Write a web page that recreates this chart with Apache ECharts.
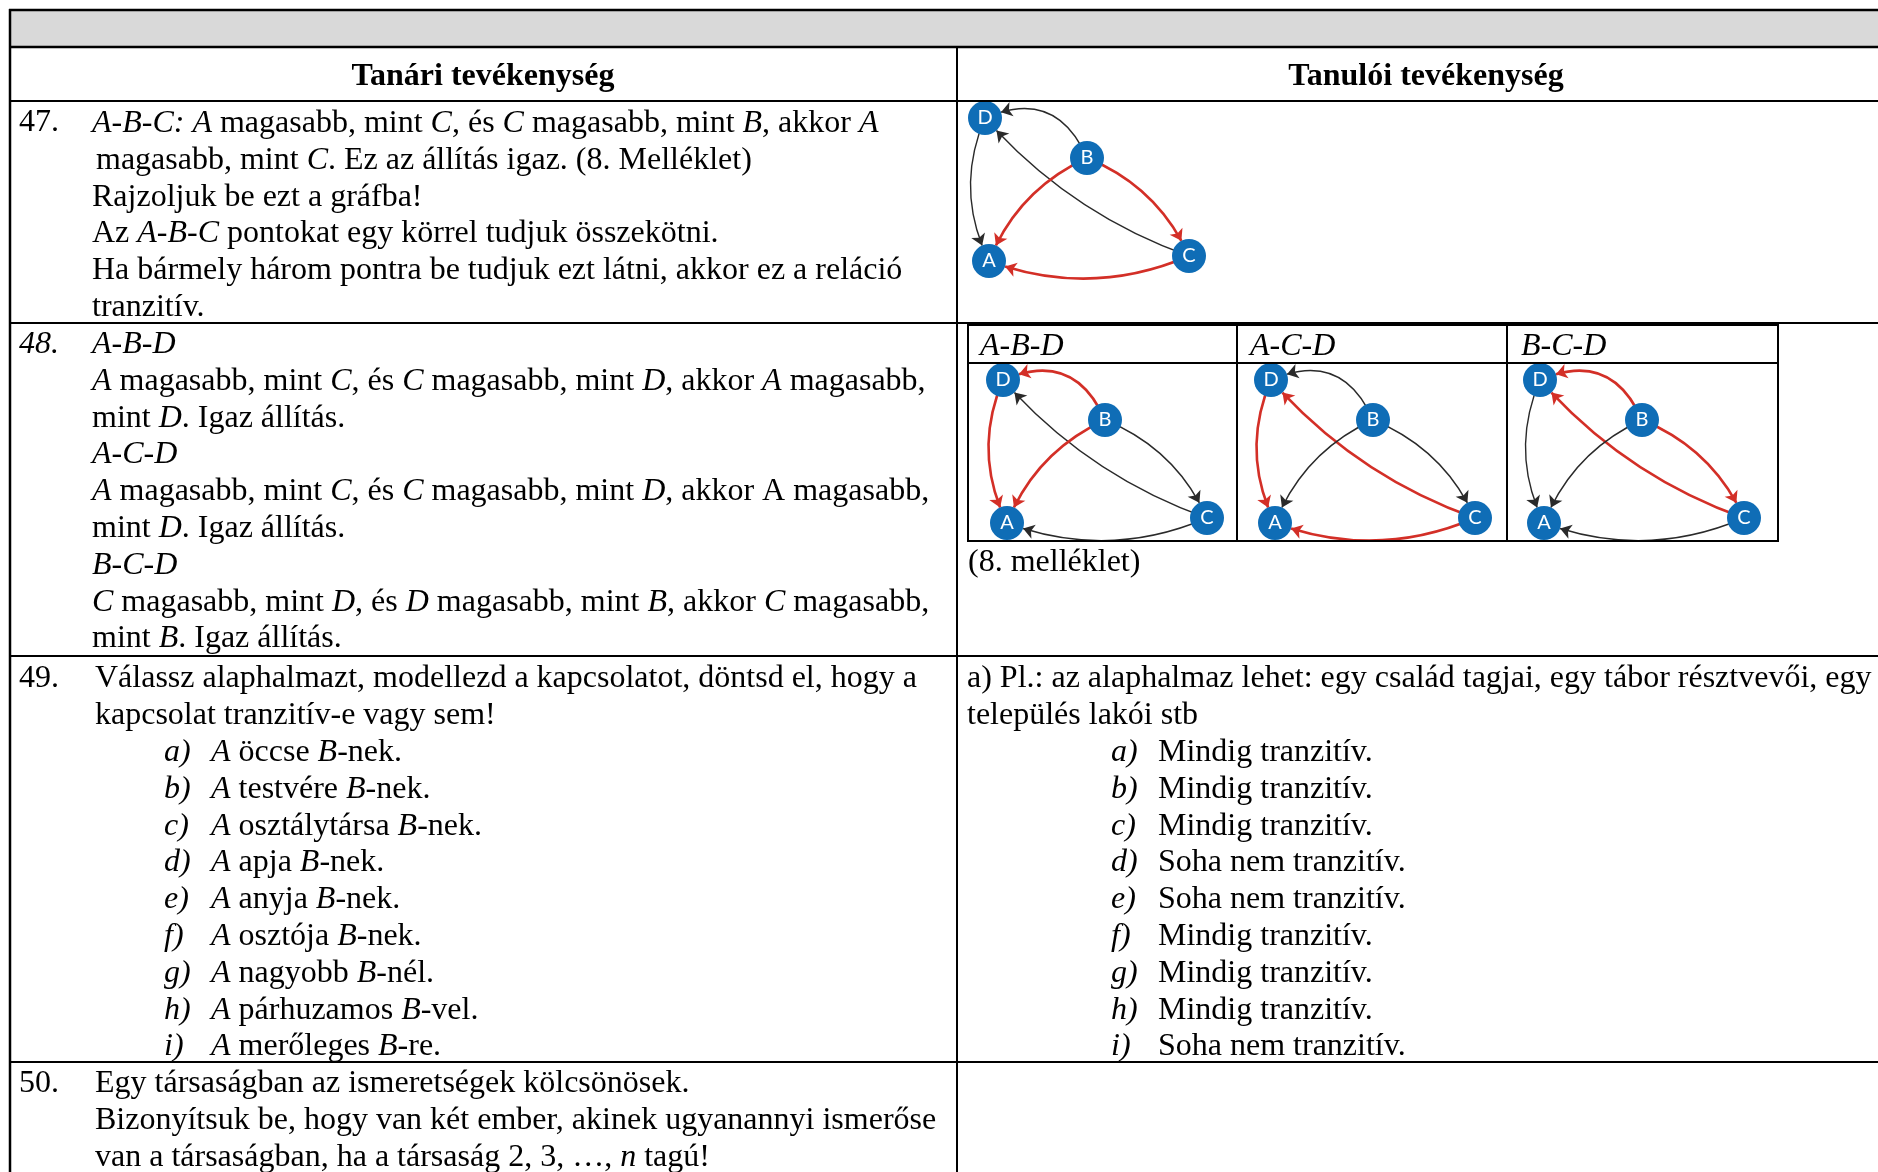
<!DOCTYPE html>
<html>
<head>
<meta charset="utf-8">
<script src="https://cdn.jsdelivr.net/npm/echarts@6/dist/echarts.min.js"></script>
<style>
  html, body { margin: 0; padding: 0; background: #fff; }
  #main { width: 1878px; height: 1172px; }
</style>
</head>
<body>
<div id="main"></div>
<script>
// graph layout (same four nodes in every diagram)
var nodeNames = ['A', 'B', 'C', 'D'];
var nodeX = [4, 102, 204, 0];
var nodeY = [143, 40, 138, 0];

// directed edges and how much they bend
var edgeSource = ['B', 'D', 'C', 'B', 'B', 'C'];
var edgeTarget = ['D', 'A', 'D', 'A', 'C', 'A'];
var edgeCurve = [-0.5, -0.23, 0.13, -0.2, 0.2, 0.2];

// 1 = red (the triple being checked), 0 = black
var panelNames = ['47', 'A-B-D', 'A-C-D', 'B-C-D'];
var panelRed = [
  [0, 0, 0, 1, 1, 1],
  [1, 1, 0, 1, 0, 0],
  [0, 1, 1, 0, 0, 1],
  [1, 0, 1, 0, 1, 0]
];

// texts of the table
var headLeft = 'Tanári tevékenység';
var headRight = 'Tanulói tevékenység';
var row47 = [
  '{i|A-B-C: A} magasabb, mint {i|C}, és {i|C} magasabb, mint {i|B}, akkor {i|A}',
  'magasabb, mint {i|C}. Ez az állítás igaz. (8. Melléklet)',
  'Rajzoljuk be ezt a gráfba!',
  'Az {i|A-B-C} pontokat egy körrel tudjuk összekötni.',
  'Ha bármely három pontra be tudjuk ezt látni, akkor ez a reláció',
  'tranzitív.'
];
var row48 = [
  '{i|A-B-D}',
  '{i|A} magasabb, mint {i|C}, és {i|C} magasabb, mint {i|D}, akkor {i|A} magasabb,',
  'mint {i|D}. Igaz állítás.',
  '{i|A-C-D}',
  '{i|A} magasabb, mint {i|C}, és {i|C} magasabb, mint {i|D}, akkor A magasabb,',
  'mint {i|D}. Igaz állítás.',
  '{i|B-C-D}',
  '{i|C} magasabb, mint {i|D}, és {i|D} magasabb, mint {i|B}, akkor {i|C} magasabb,',
  'mint {i|B}. Igaz állítás.'
];
var row49 = [
  'Válassz alaphalmazt, modellezd a kapcsolatot, döntsd el, hogy a',
  'kapcsolat tranzitív-e vagy sem!'
];
var itemLetters = ['a)', 'b)', 'c)', 'd)', 'e)', 'f)', 'g)', 'h)', 'i)'];
var itemTasks = [
  '{i|A} öccse {i|B}-nek.',
  '{i|A} testvére {i|B}-nek.',
  '{i|A} osztálytársa {i|B}-nek.',
  '{i|A} apja {i|B}-nek.',
  '{i|A} anyja {i|B}-nek.',
  '{i|A} osztója {i|B}-nek.',
  '{i|A} nagyobb {i|B}-nél.',
  '{i|A} párhuzamos {i|B}-vel.',
  '{i|A} merőleges {i|B}-re.'
];
var row49Right = [
  'a) Pl.: az alaphalmaz lehet: egy család tagjai, egy tábor résztvevői, egy',
  'település lakói stb'
];
var itemAnswers = [
  'Mindig tranzitív.', 'Mindig tranzitív.', 'Mindig tranzitív.',
  'Soha nem tranzitív.', 'Soha nem tranzitív.', 'Mindig tranzitív.',
  'Mindig tranzitív.', 'Mindig tranzitív.', 'Soha nem tranzitív.'
];
var row50 = [
  'Egy társaságban az ismeretségek kölcsönösek.',
  'Bizonyítsuk be, hogy van két ember, akinek ugyanannyi ismerőse',
  'van a társaságban, ha a társaság 2, 3, …, {i|n} tagú!'
];

var FONT = 'Liberation Serif';
var FS = 32;
var LH = 36.8;
var RED = '#d32f27';
var BLACK = '#2a2a2a';
var BLUE = '#0f6db6';

var richStyles = {
  i: { fontFamily: FONT, fontSize: FS, fontStyle: 'italic', fill: '#000' }
};

function txt(x, y, s, extra) {
  var st = {
    text: s,
    fontFamily: FONT,
    fontSize: FS,
    fill: '#000',
    align: 'left',
    verticalAlign: 'middle',
    rich: richStyles
  };
  if (extra) { for (var k in extra) st[k] = extra[k]; }
  return { type: 'text', x: x, y: y, style: st, z: 10 };
}

function hline(y, x1, x2, w) {
  return { type: 'line', shape: { x1: x1, y1: y, x2: x2, y2: y }, style: { stroke: '#000', lineWidth: w || 2 }, z: 5 };
}
function vline(x, y1, y2, w) {
  return { type: 'line', shape: { x1: x, y1: y1, x2: x, y2: y2 }, style: { stroke: '#000', lineWidth: w || 2 }, z: 5 };
}

var graphic = [];
// grey band + table lines
graphic.push({ type: 'rect', shape: { x: 10, y: 10, width: 1868, height: 37 }, style: { fill: '#d9d9d9' }, z: 1 });
graphic.push(hline(10, 9, 1878, 2.5));
graphic.push(hline(47, 9, 1878, 2.5));
graphic.push(hline(101, 9, 1878, 2));
graphic.push(hline(323, 9, 1878, 2));
graphic.push(hline(656, 9, 1878, 2));
graphic.push(hline(1062, 9, 1878, 2));
graphic.push(vline(10, 9, 1172, 2.5));
graphic.push(vline(957, 47, 1172, 2));

// small table around the three diagrams of row 48
graphic.push(hline(325, 967, 1779, 2));
graphic.push(hline(363, 967, 1779, 2));
graphic.push(hline(541, 967, 1779, 2));
graphic.push(vline(968, 324, 542, 2));
graphic.push(vline(1237, 324, 542, 2));
graphic.push(vline(1507, 324, 542, 2));
graphic.push(vline(1778, 324, 542, 2));

// header
graphic.push(txt(483, 77, headLeft, { align: 'center', fontWeight: 'bold' }));
graphic.push(txt(1426, 77, headRight, { align: 'center', fontWeight: 'bold' }));

// row 47
graphic.push(txt(19, 123, '47.'));
row47.forEach(function (s, i) { graphic.push(txt(i === 1 ? 96 : 92, 123.5 + i * LH, s)); });
// row 48
graphic.push(txt(19, 344.5, '{i|48.}'));
row48.forEach(function (s, i) { graphic.push(txt(92, 344.5 + i * LH, s)); });
graphic.push(txt(980, 347, '{i|' + panelNames[1] + '}'));
graphic.push(txt(1250, 347, '{i|' + panelNames[2] + '}'));
graphic.push(txt(1521, 347, '{i|' + panelNames[3] + '}'));
graphic.push(txt(968, 563, '(8. melléklet)'));
// row 49
graphic.push(txt(19, 679, '49.'));
row49.forEach(function (s, i) { graphic.push(txt(95, 679 + i * LH, s)); });
itemLetters.forEach(function (s, i) {
  graphic.push(txt(164, 679 + (i + 2) * LH, '{i|' + s + '}'));
  graphic.push(txt(211, 679 + (i + 2) * LH, itemTasks[i]));
});
row49Right.forEach(function (s, i) { graphic.push(txt(967, 679 + i * LH, s)); });
itemLetters.forEach(function (s, i) {
  graphic.push(txt(1111, 679 + (i + 2) * LH, '{i|' + s + '}'));
  graphic.push(txt(1158, 679 + (i + 2) * LH, itemAnswers[i]));
});
// row 50
graphic.push(txt(19, 1084, '50.'));
row50.forEach(function (s, i) { graphic.push(txt(95, 1084 + i * LH, s)); });

// diagram panels: position of node D on the page
var panelLeft = [985, 1003, 1271, 1540];
var panelTop = [118, 380, 380, 380];

var grids = [], xAxes = [], yAxes = [], series = [];
panelNames.forEach(function (name, p) {
  grids.push({ left: panelLeft[p], top: panelTop[p], width: 204, height: 143, containLabel: false });
  xAxes.push({ gridIndex: p, type: 'value', min: 0, max: 204, show: false });
  yAxes.push({ gridIndex: p, type: 'value', min: 0, max: 143, inverse: true, show: false });
  var nodes = nodeNames.map(function (n, k) {
    return { name: n, value: [nodeX[k], nodeY[k]] };
  });
  var links = edgeSource.map(function (s, k) {
    var red = panelRed[p][k] === 1;
    return {
      source: s,
      target: edgeTarget[k],
      lineStyle: { color: red ? RED : BLACK, width: red ? 2.6 : 1.4, curveness: edgeCurve[k], opacity: 1 }
    };
  });
  series.push({
    type: 'graph',
    name: name,
    coordinateSystem: 'cartesian2d',
    xAxisIndex: p,
    yAxisIndex: p,
    layout: 'none',
    symbol: 'circle',
    symbolSize: 34,
    itemStyle: { color: BLUE },
    label: { show: true, position: 'inside', color: '#fff', fontFamily: 'Lato', fontSize: 20, formatter: '{b}' },
    edgeSymbol: ['none', 'arrow'],
    edgeSymbolSize: [4, 11],
    data: nodes,
    links: links,
    z: 3
  });
});

var chart = echarts.init(document.getElementById('main'));
chart.setOption({
  animation: false,
  backgroundColor: '#fff',
  grid: grids,
  xAxis: xAxes,
  yAxis: yAxes,
  graphic: graphic,
  series: series
});
</script>
</body>
</html>
